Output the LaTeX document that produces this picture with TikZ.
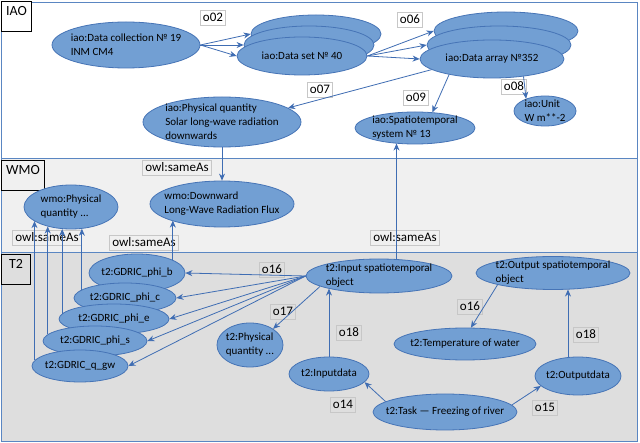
\documentclass[tikz,border=0pt]{standalone}
\usepackage{fontspec}
\setmainfont{Carlito}
\usetikzlibrary{positioning, arrows.meta, shapes.geometric}
\definecolor{ellfill}{HTML}{729FD3}
\definecolor{elldraw}{HTML}{4674B6}
\definecolor{linkc}{HTML}{3F6DB3}
\definecolor{bandline}{HTML}{5A86C2}
\definecolor{wmobg}{HTML}{F0F0F0}
\definecolor{ttbg}{HTML}{DEDEDE}
\newcommand{\clsfont}{\fontsize{11}{14}\selectfont}
\newcommand{\relfont}{\fontsize{13}{15}\selectfont}
\newcommand{\tagfont}{\fontsize{14}{16}\selectfont}
\tikzstyle{arrow} = [line width=0.8pt, draw=linkc, -{Stealth[length=7pt,width=6pt]}]
\tikzstyle{cls} = [ellipse, draw=elldraw, fill=ellfill, line width=0.8pt, inner sep=-20pt, font=\clsfont, align=left]
\tikzstyle{rel} = [rectangle, draw=black!22, line width=0.7pt, font=\relfont, inner xsep=2.5pt, inner ysep=0pt, minimum height=15, text height=9.5, text depth=2.5]
\tikzstyle{tag} = [rectangle, draw=black, line width=1pt, font=\tagfont, anchor=north west, minimum height=30, inner xsep=3pt, text height=10, text depth=12]
\tikzstyle{band} = [draw=bandline, line width=0.9pt]
\tikzset{esz/.style 2 args={minimum width=#1, minimum height=#2}}

\begin{document}
\begin{tikzpicture}[x=1pt, y=-1pt]
\useasboundingbox (0,0) rectangle (640,443);
% the three bands
\draw[band, fill=white] (1,2) rectangle (637,158);
\draw[band, fill=wmobg] (1,158) rectangle (637,252);
\draw[band, fill=ttbg] (1,252) rectangle (637,441);
\node (tagiao) [tag, fill=white, minimum width=30] at (1,1) {IAO};
\node (tagwmo) [tag, fill=wmobg, minimum width=43] at (1,160) {WMO};
\node (tagtt) [tag, fill=ttbg, minimum width=29] at (1,254) {T2};

% IAO
\node (dc) [cls, esz={148}{46}] at (126,45) {iao:Data collection № 19\\INM CM4};
\node (dsback) [cls, esz={130}{38}] at (316,34) {};
\node (dsmid) [cls, esz={130}{38}, xshift=-7pt, yshift=-11pt] at (dsback) {};
\node (ds) [cls, esz={130}{38}, xshift=-7pt, yshift=-11pt] at (dsmid) {iao:Data set № 40};
\node (daback) [cls, esz={144}{38}] at (506,31) {};
\node (damid) [cls, esz={144}{38}, xshift=-7pt, yshift=-14pt] at (daback) {};
\node (da) [cls, esz={144}{38}, xshift=-7pt, yshift=-14pt] at (damid) {iao:Data array №352};
\node (phys) [cls, esz={158}{50}] at (222,122) {iao:Physical quantity\\Solar long-wave radiation\\downwards};
\node (sts) [cls, esz={120}{32}] at (415,128) {iao:Spatiotemporal\\system № 13};
\node (unit) [cls, esz={62}{30}] at (545,111) {iao:Unit\\W m**-2};

% WMO
\node (wmophys) [cls, esz={94}{44}] at (71,207) {wmo:Physical\\quantity ...};
\node (down) [cls, esz={144}{46}] at (222,204) {wmo:Downward\\Long-Wave Radiation Flux};

% T2
\node (phib) [cls, esz={96}{38}] at (137,273) {t2:GDRIC\_phi\_b};
\node (phic) [cls, esz={102}{30}] at (125,298) {t2:GDRIC\_phi\_c};
\node (phie) [cls, esz={110}{30}] at (114,319) {t2:GDRIC\_phi\_e};
\node (phis) [cls, esz={104}{30}] at (95,341) {t2:GDRIC\_phi\_s};
\node (qgw) [cls, esz={96}{32}] at (80,366) {t2:GDRIC\_q\_gw};
\node (tphys) [cls, esz={66}{44}] at (250,345) {t2:Physical\\quantity ...};
\node (inp) [cls, esz={146}{34}] at (379,276) {t2:Input spatiotemporal\\object};
\node (outp) [cls, esz={154}{33}] at (553,273) {t2:Output spatiotemporal\\object};
\node (temp) [cls, esz={142}{32}] at (465,344) {t2:Temperature of water};
\node (indata) [cls, esz={80}{34}] at (329,374) {t2:Inputdata};
\node (outdata) [cls, esz={86}{38}] at (578,376) {t2:Outputdata};
\node (task) [cls, esz={144}{36}] at (445,412) {t2:Task — Freezing of river};

% relation labels
\node (lo02) [rel, fill=white] at (213,18) {o02};
\node (lo06) [rel, fill=white] at (410,20) {o06};
\node (lo07) [rel, fill=white] at (320,90) {o07};
\node (lo08) [rel, fill=white] at (514,87) {o08};
\node (lo09) [rel, fill=white] at (416,98) {o09};
\node (lsame1) [rel] at (177,168) {owl:sameAs};
\node (lsame2) [rel] at (47,238) {owl:sameAs};
\node (lsame3) [rel] at (144,243) {owl:sameAs};
\node (lsame4) [rel] at (405,238) {owl:sameAs};
\node (lo16a) [rel] at (272,270) {o16};
\node (lo17) [rel] at (283,312) {o17};
\node (lo18a) [rel] at (349,333) {o18};
\node (lo16b) [rel] at (470,307) {o16};
\node (lo18b) [rel] at (586,335) {o18};
\node (lo14) [rel] at (343,405) {o14};
\node (lo15) [rel] at (545,408) {o15};

% links
\draw[arrow] (dc.east) -- (dsback.west);
\draw[arrow] (dc.east) -- (dsmid.west);
\draw[arrow] (dc.east) -- (ds.west);
\draw[arrow] (ds.east) -- (daback.west);
\draw[arrow] (ds.east) -- (damid.west);
\draw[arrow] (ds.east) -- (da.west);
\draw[arrow] (da.190) -- (phys.12);
\draw[arrow] (da.200) -- (sts.42);
\draw[arrow] (da.331) -- (unit.147);
\draw[arrow] (phys.south) -- (down.north);
\draw[arrow] (phib.20) -- (phib.20 |- down.198);
\draw[arrow] (phic.169) -- (phic.169 |- wmophys.297);
\draw[arrow] (phie.174) -- (phie.174 |- wmophys.250);
\draw[arrow] (phis.172) -- (phis.172 |- wmophys.220);
\draw[arrow] (qgw.173) -- (qgw.173 |- wmophys.201);
\draw[arrow] (inp.44) -- (inp.44 |- sts.219);
\foreach \t in {phib, phic, phie, phis, qgw}
  \draw[arrow] (inp.west) -- (\t.east);
\draw[arrow] (inp.190) -- (tphys.35);
\draw[arrow] (indata.north) -- (indata.north |- inp.194);
\draw[arrow] (outdata.118) -- (outdata.118 |- outp.314);
\draw[arrow] (outp.192) -- (temp.70);
\draw[arrow] (task.170) -- (indata.347);
\draw[arrow] (task.6) -- (outdata.195);
\end{tikzpicture}
\end{document}
